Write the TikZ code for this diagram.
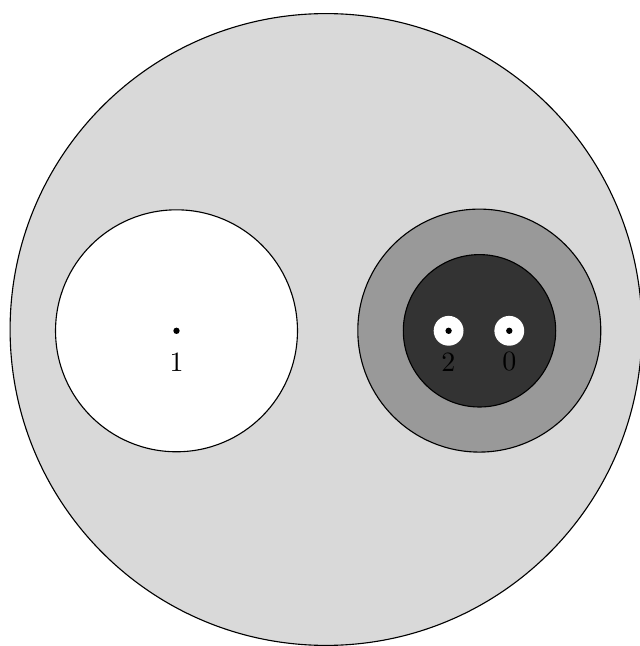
\documentclass[tikz,border=0pt]{standalone}
\usepackage{tikz}

\begin{document}
\begin{tikzpicture}[x=0.01257cm, y=0.01257cm,
  disc/.style={draw, circle, inner sep=0pt},
  spot/.style={circle, fill, inner sep=0pt, minimum size=0.8mm}]
\useasboundingbox (0,0) rectangle (640,646);
\node[disc, fill=black!15, minimum size=7.944cm] (outer) at (326,316.5) {};
\node[disc, fill=white, minimum size=3.042cm] (hole1) at (176.5,315.2) {};
\node[disc, fill=black!40, minimum size=3.055cm] (ring) at (479.3,315.4) {};
\node[disc, fill=black!80, minimum size=1.916cm] (core) at (479.5,315.2) {};
\node[disc, draw=none, fill=white, minimum size=0.375cm] (hole2) at (448.6,315.2) {};
\node[disc, draw=none, fill=white, minimum size=0.375cm] (hole0) at (509.3,315.2) {};

\node[spot] (p1) at (hole1.center) {};
\node[spot] (p2) at (hole2.center) {};
\node[spot] (p0) at (hole0.center) {};

\node (l1) at (176.5,284.3) {1};
\node (l2) at (448.3,284.3) {2};
\node (l0) at (509.3,284.3) {0};
\end{tikzpicture}
\end{document}
